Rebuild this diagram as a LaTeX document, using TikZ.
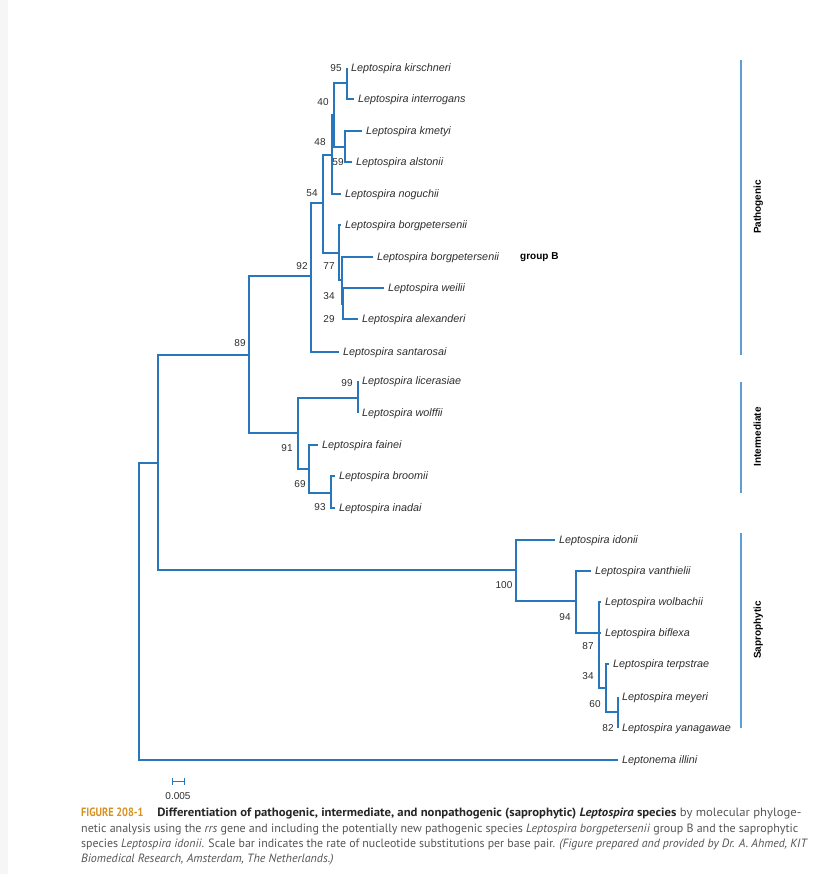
\documentclass[tikz,border=0pt]{standalone}
\usepackage{graphicx}
\usepackage{fontspec}
\setmainfont{Liberation Sans}
\newfontfamily\capfont{PT Sans}
\usetikzlibrary{positioning, arrows.meta}
\definecolor{treeblue}{RGB}{40,118,188}
\definecolor{barblue}{RGB}{95,158,210}
\definecolor{labelgray}{RGB}{45,45,45}
\definecolor{capgray}{RGB}{85,85,85}
\definecolor{figorange}{RGB}{215,145,30}
\definecolor{stripgray}{RGB}{246,246,246}
\tikzstyle{branch} = [draw=treeblue, line width=1.2pt]
\tikzstyle{leaf} = [anchor=west, inner xsep=4pt, inner ysep=0pt, text height=7.5pt, text depth=0pt, font=\fontsize{10.8}{12}\selectfont\itshape, text=labelgray]
\tikzstyle{boot} = [inner sep=0pt, text height=7.2pt, text depth=0pt, font=\fontsize{10}{12}\selectfont, text=labelgray]
\tikzstyle{groupbar} = [draw=barblue, line width=1.3pt]
\tikzstyle{grouplabel} = [rotate=90, inner sep=0pt, text height=7.5pt, text depth=0pt, font=\fontsize{10}{12}\selectfont\bfseries, text=black]
\tikzstyle{capline} = [anchor=west, inner sep=0pt, text height=8.5pt, text depth=0pt, font=\capfont\fontsize{12}{14}\selectfont, text=capgray]

\begin{document}
\begin{tikzpicture}[x=1pt, y=-1pt] % one unit = one pixel of the page

			\useasboundingbox (0,0) rectangle (824,874);
			\fill [stripgray] (0,0) rectangle (8,874);
			
			% species at the tips
			\node (kirschneri) [leaf] at (347,68) {Leptospira kirschneri};
			\node (interrogans) [leaf] at (354,99) {Leptospira interrogans};
			\node (kmetyi) [leaf] at (362,131) {Leptospira kmetyi};
			\node (alstonii) [leaf] at (352,162) {Leptospira alstonii};
			\node (noguchii) [leaf] at (341,194) {Leptospira noguchii};
			\node (borgpetersenii) [leaf] at (341,225) {Leptospira borgpetersenii};
			\node (borgB) [leaf] at (373,257) {Leptospira borgpetersenii};
			\node (weilii) [leaf] at (384,288) {Leptospira weilii};
			\node (alexanderi) [leaf] at (358,319) {Leptospira alexanderi};
			\node (santarosai) [leaf] at (339,352) {Leptospira santarosai};
			\node (licerasiae) [leaf] at (358,381) {Leptospira licerasiae};
			\node (wolffii) [leaf] at (358,413) {Leptospira wolffii};
			\node (fainei) [leaf] at (318,445) {Leptospira fainei};
			\node (broomii) [leaf] at (335,476) {Leptospira broomii};
			\node (inadai) [leaf] at (335,508) {Leptospira inadai};
			\node (idonii) [leaf] at (555,540) {Leptospira idonii};
			\node (vanthielii) [leaf] at (591,571) {Leptospira vanthielii};
			\node (wolbachii) [leaf] at (601,602) {Leptospira wolbachii};
			\node (biflexa) [leaf] at (601,633) {Leptospira biflexa};
			\node (terpstrae) [leaf] at (609,664) {Leptospira terpstrae};
			\node (meyeri) [leaf] at (618,697) {Leptospira meyeri};
			\node (yanagawae) [leaf] at (618,728) {Leptospira yanagawae};
			\node (illini) [leaf] at (618,760) {Leptonema illini};
			\node (groupB) [anchor=west, inner sep=0pt, font=\fontsize{10}{12}\selectfont\bfseries] at (520,257) {group B};
			
			% inner nodes of the tree
			\coordinate (int95) at (347,83);
			\coordinate (int59) at (345,147);
			\coordinate (int40) at (334,115);
			\coordinate (int48) at (332,155);
			\coordinate (int54) at (323,203);
			\coordinate (int77) at (339,253);
			\coordinate (int34a) at (342,280);
			\coordinate (int29) at (343,304);
			\coordinate (int92) at (311,276);
			\coordinate (int89) at (249,355);
			\coordinate (int99) at (358,398);
			\coordinate (int91) at (298,433);
			\coordinate (int69) at (309,469);
			\coordinate (int93) at (331,493);
			\coordinate (root) at (158,463);
			\coordinate (outroot) at (139,611);
			\coordinate (int100) at (516,570);
			\coordinate (int94) at (576,601);
			\coordinate (int87) at (599,633);
			\coordinate (int34b) at (606,688);
			\coordinate (int60) at (618,712);
			
			% branches
			\draw [branch] (int95) |- (kirschneri.west);
			\draw [branch] (int95) |- (interrogans.west);
			\draw [branch] (int59) |- (kmetyi.west);
			\draw [branch] (int59) |- (alstonii.west);
			\draw [branch] (int40) |- (int95);
			\draw [branch] (int40) |- (int59);
			\draw [branch] (int48) |- (int40);
			\draw [branch] (int48) |- (noguchii.west);
			\draw [branch] (int29) |- (weilii.west);
			\draw [branch] (int29) |- (alexanderi.west);
			\draw [branch] (int34a) |- (borgB.west);
			\draw [branch] (int34a) |- (int29);
			\draw [branch] (int77) |- (borgpetersenii.west);
			\draw [branch] (int77) |- (int34a);
			\draw [branch] (int54) |- (int48);
			\draw [branch] (int54) |- (int77);
			\draw [branch] (int92) |- (int54);
			\draw [branch] (int92) |- (santarosai.west);
			\draw [branch] (int99) |- (licerasiae.west);
			\draw [branch] (int99) |- (wolffii.west);
			\draw [branch] (int93) |- (broomii.west);
			\draw [branch] (int93) |- (inadai.west);
			\draw [branch] (int69) |- (fainei.west);
			\draw [branch] (int69) |- (int93);
			\draw [branch] (int91) |- (int99);
			\draw [branch] (int91) |- (int69);
			\draw [branch] (int89) |- (int92);
			\draw [branch] (int89) |- (int91);
			\draw [branch] (int60) |- (meyeri.west);
			\draw [branch] (int60) |- (yanagawae.west);
			\draw [branch] (int34b) |- (terpstrae.west);
			\draw [branch] (int34b) |- (int60);
			\draw [branch] (int87) |- (wolbachii.west);
			\draw [branch] (int87) |- (biflexa.west);
			\draw [branch] (int87) |- (int34b);
			\draw [branch] (int94) |- (vanthielii.west);
			\draw [branch] (int94) |- (int87);
			\draw [branch] (int100) |- (idonii.west);
			\draw [branch] (int100) |- (int94);
			\draw [branch] (root) |- (int89);
			\draw [branch] (root) |- (int100);
			\draw [branch] (outroot) |- (root);
			\draw [branch] (outroot) |- (illini.west);
			
			% bootstrap values
			\node (bs95) [boot] at (336,68) {95};
			\node (bs40) [boot] at (323,102) {40};
			\node (bs59) [boot] at (338,162) {59};
			\node (bs48) [boot] at (320,142) {48};
			\node (bs54) [boot] at (312,193) {54};
			\node (bs77) [boot] at (329,266) {77};
			\node (bs34a) [boot] at (329,296) {34};
			\node (bs29) [boot] at (329,319) {29};
			\node (bs92) [boot] at (302,266) {92};
			\node (bs89) [boot] at (240,343) {89};
			\node (bs99) [boot] at (347,383) {99};
			\node (bs91) [boot] at (287,448) {91};
			\node (bs69) [boot] at (300,484) {69};
			\node (bs93) [boot] at (320,507) {93};
			\node (bs100) [boot] at (504,585) {100};
			\node (bs94) [boot] at (565,617) {94};
			\node (bs87) [boot] at (588,646) {87};
			\node (bs34b) [boot] at (588,676) {34};
			\node (bs60) [boot] at (595,704) {60};
			\node (bs82) [boot] at (608,728) {82};
			
			% groups on the right
			\coordinate (pathTop) at (741,60);
			\coordinate (pathBot) at (741,355);
			\coordinate (interTop) at (741,382);
			\coordinate (interBot) at (741,493);
			\coordinate (sapTop) at (741,533);
			\coordinate (sapBot) at (741,728);
			\draw [groupbar] (pathTop) -- (pathBot);
			\draw [groupbar] (interTop) -- (interBot);
			\draw [groupbar] (sapTop) -- (sapBot);
			\node (pathogenic) [grouplabel] at (757,207) {Pathogenic};
			\node (intermediate) [grouplabel] at (757,437) {Intermediate};
			\node (saprophytic) [grouplabel] at (757,630) {Saprophytic};
			
			% scale bar
			\coordinate (scaleL) at (172,781);
			\coordinate (scaleR) at (185,781);
			\draw [branch, line width=0.9pt, {Bar[width=7pt]}-{Bar[width=7pt]}] (scaleL) -- (scaleR);
			\node (scalelabel) [boot] at (178,796) {0.005};
			
			% caption
			\node (cap1) [capline] at (81,812) {{\color{figorange}\bfseries\scalebox{0.86}[1]{FIGURE 208-1}}\scalebox{1.06}[1]{\hspace{13pt}{\bfseries\color{black!85}Differentiation of pathogenic, intermediate, and nonpathogenic (saprophytic) \textit{Leptospira} species} by molecular phyloge-}};
			\node (cap2) [capline] at (81,828) {netic analysis using the \textit{rrs} gene and including the potentially new pathogenic species \textit{Leptospira borgpetersenii} group B and the saprophytic};
			\node (cap3) [capline] at (81,843) {\scalebox{0.988}[1]{species \textit{Leptospira idonii}. Scale bar indicates the rate of nucleotide substitutions per base pair. \textit{(Figure prepared and provided by Dr. A. Ahmed, KIT}}};
			\node (cap4) [capline] at (81,858) {\textit{Biomedical Research, Amsterdam, The Netherlands.)}};
			
		\end{tikzpicture}
\end{document}
